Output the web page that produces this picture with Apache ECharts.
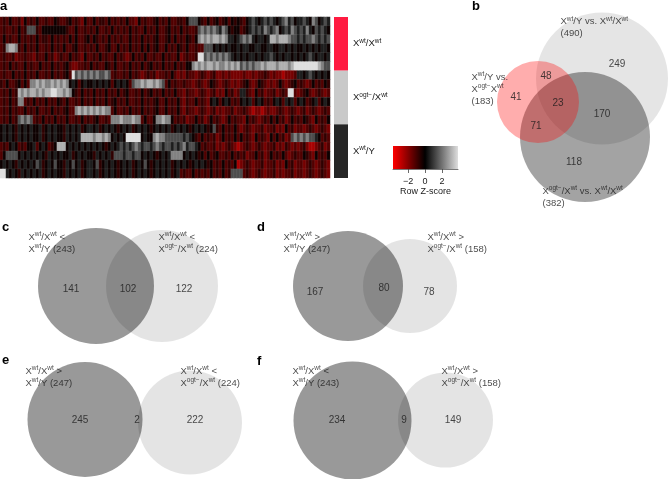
<!DOCTYPE html>
<html><head><meta charset="utf-8">
<script src="https://cdn.jsdelivr.net/npm/echarts@6/dist/echarts.min.js"></script>
<style>html,body{margin:0;padding:0;background:#fff}#c{width:670px;height:479px}</style>
</head><body><div id="c"></div>
<script>
// ---------- DATA ----------
// Heatmap: one string per gene-row, each character is a z-score level (index into levelZ)
const heatRowsRaw = [
"2324223142 3242232243 2234232142 2423324232 3242214232 2342324223 3246664324 2342342434 3245654565 6545675645 5654764565",
"2322324236 6632444444 4432242232 3242232423 2324232242 3242234232 4232236767 6765764344 2345656576 5674565765 6575465654",
"2423224232 3242332423 2324242234 2432324232 3224232423 2342234242 3243247878 7887875545 6767545545 8878887665 6566765656",
"2378873242 3242232423 2422342232 3242234224 2324232424 2342242324 3242232266 6454545445 4554455445 5445545454 4545454554",
"2322312232 2132242312 3224232142 2324232242 3212423242 2322423224 1232239967 6767676545 4545545455 6545455454 5456545545",
"2324232242 3224232423 2342112232 4232243242 2324232423 4232423242 3244787878 8787787878 6767677878 8878887899 9999998766",
"2322423242 3242232423 2342967676 7676676232 2324232123 2312232421 2132212321 2311212111 1211212232 1211011125 5456545454",
"3242234242 7787877878 7874542454 4545454245 4542677878 8787624232 2322123212 4321232121 2342124321 2124212342 3212423243",
"2324238787 8878788998 8787432423 2423242324 2342232423 4232423242 2132212321 2312142312 5532142312 2312329921 2342123212",
"2324237723 2423242324 3242232423 2423242342 3242232423 2342242324 2132242321 4542454232 4545245423 2454254524 5423452454",
"2324232242 3242232423 2342278787 8787877242 2324232423 2342242324 2132212321 2312122312 2321011012 1123212321 2312321232",
"2324236767 6232423242 3242232423 2342232777 8777877242 2477877423 2312242312 4232124232 2142321232 4242312423 2432142324",
"4545435454 5445345454 4354545345 5453454543 4545345454 3454545345 4543454543 4632423242 1232122312 2312142312 2123212321",
"4545435454 5445345454 4354545888 8788787454 5499999454 4787766666 6565432423 2312423242 4232142321 4242312676 7676654232",
"2324542324 4524542348 8845454545 4545434545 6565676566 5676566565 6756654232 2312123210 1232123212 2312132121 2310012312",
"2466664545 4545435454 5445345454 4354545366 6566566454 5434545777 7454543424 2342232423 2312242312 4232421232 2432142324",
"4545435454 5465345464 4354645345 5463454543 4545345464 3454545345 4543454543 4232423240 1232122312 2312142312 2123212321",
"9954543545 4545345454 4354545345 5453454543 4545345454 3454545345 2322423232 4232423666 6232123212 2312122312 2123212321"
];
const levelZ = [-2.5, -1.75, -1.2, -0.7, -0.2, 0.5, 1.3, 2.2, 3.0, 3.8];
const rowGroupOf = [0,0,0,0,0,0, 1,1,1,1,1,1, 2,2,2,2,2,2];
const groupNames = ['Xwt/Xwt', 'Xogt−/Xwt', 'Xwt/Y'];
const groupLabels = ['X{s|wt}/X{s|wt}', 'X{s|ogt−}/X{s|wt}', 'X{s|wt}/Y'];
const zTicks = [-2, 0, 2];
const zRange = [-3.8, 3.9];
const zAxisName = 'Row Z-score';

// Venn values
const bSetSizes = [490, 382, 183];
const bSetLabels = ['X{s|wt}/Y vs. X{s|wt}/X{s|wt}', 'X{s|ogt−}/X{s|wt} vs. X{s|wt}/X{s|wt}', 'X{s|wt}/Y vs.\nX{s|ogt−}X{s|wt}'];
const bRegionCounts = [249, 48, 41, 23, 170, 71, 118];
const cSetSizes = [243, 224];
const cSetLabels = ['X{s|wt}/X{s|wt} <\nX{s|wt}/Y', 'X{s|wt}/X{s|wt} <\nX{s|ogt−}/X{s|wt}'];
const cRegionCounts = [141, 102, 122];
const dSetSizes = [247, 158];
const dSetLabels = ['X{s|wt}/X{s|wt} >\nX{s|wt}/Y', 'X{s|wt}/X{s|wt} >\nX{s|ogt−}/X{s|wt}'];
const dRegionCounts = [167, 80, 78];
const eSetSizes = [247, 224];
const eSetLabels = ['X{s|wt}/X{s|wt} >\nX{s|wt}/Y', 'X{s|wt}/X{s|wt} <\nX{s|ogt−}/X{s|wt}'];
const eRegionCounts = [245, 2, 222];
const fSetSizes = [243, 158];
const fSetLabels = ['X{s|wt}/X{s|wt} <\nX{s|wt}/Y', 'X{s|wt}/X{s|wt} >\nX{s|ogt−}/X{s|wt}'];
const fRegionCounts = [234, 9, 149];
const panelLetters = ['a', 'b', 'c', 'd', 'e', 'f'];

// ---------- LAYOUT (positions / sizes / styles) ----------
const FONT = "'Liberation Sans', Arial, Helvetica, sans-serif";
const TXT = '#1a1a1a';
const letterPos = [[0,0],[472,0],[2,221],[257,221],[2,354],[257,355]];
const sideColors = ['#ff1b41', '#c9c9c9', '#262626'];
const darkFill = 'rgba(0,0,0,0.40)', lightFill = 'rgba(0,0,0,0.105)';
const vennLayout = [
  {box:[460,0,210,215], circles:[[142,78.5,66],[125,137,65],[78,102,41]],
   fills:['rgba(0,0,0,0.10)','rgba(0,0,0,0.36)','rgba(255,0,0,0.32)'],
   countPos:[[157,64],[86,76],[56,97],[98,103],[142,114],[76,126],[114,162]],
   labelPos:[[100,27.5],[82,197],[11,89]], sep:'\n',
   sizes:bSetSizes, labels:bSetLabels, counts:bRegionCounts},
  {box:[0,220,255,130], circles:[[96,66,58],[162,66,56]], fills:[darkFill, lightFill],
   countPos:[[71,69],[128,69],[184,69]], labelPos:[[28,23],[158,23]], sep:' ',
   sizes:cSetSizes, labels:cSetLabels, counts:cRegionCounts},
  {box:[255,220,215,130], circles:[[93,66,55],[155,66,47]], fills:[darkFill, lightFill],
   countPos:[[60,72],[129,68],[174,72]], labelPos:[[28,23],[172,23]], sep:' ',
   sizes:dSetSizes, labels:dSetLabels, counts:dRegionCounts},
  {box:[0,355,255,124], circles:[[85,64.5,57.5],[190,67.5,52]], fills:[darkFill, lightFill],
   countPos:[[80,65],[137,65],[195,65]], labelPos:[[25,22],[180,22]], sep:' ',
   sizes:eSetSizes, labels:eSetLabels, counts:eRegionCounts},
  {box:[255,355,255,124], circles:[[97.5,65.5,59],[190.5,65,47.5]], fills:[darkFill, lightFill],
   countPos:[[82,65],[149,65],[198,65]], labelPos:[[37,22],[186,22]], sep:' ',
   sizes:fSetSizes, labels:fSetLabels, counts:fRegionCounts}
];

// ---------- BUILD ----------
const heatRows = heatRowsRaw.map(s => s.replace(/ /g, ''));
const nCols = Math.max(...heatRows.map(r => r.length));
const colCats = Array.from({length: nCols}, (_, i) => 'g' + (i + 1));
const rowCats = heatRows.map((_, i) => 'row' + (i + 1));
const heatData = [];
heatRows.forEach((r, ri) => { for (let ci = 0; ci < r.length; ci++) heatData.push([ci, ri, levelZ[+r[ci]]]); });

const richSup = {s: {fontSize: 6.5, lineHeight: 12, verticalAlign: 'top', fontFamily: FONT, color: TXT}};

const grid = [
  {left: 0, top: 17, width: 330, height: 161},
  {left: 334, top: 17, width: 14, height: 161},
  {left: 393, top: 146, width: 65, height: 23}
];
const xAxis = [
  {gridIndex: 0, type: 'category', data: colCats, show: false},
  {gridIndex: 1, type: 'category', data: ['group'], show: false},
  {gridIndex: 2, type: 'value', min: zRange[0], max: zRange[1], position: 'bottom',
   axisLine: {show: true, onZero: false, lineStyle: {color: '#555', width: 0.8}},
   axisTick: {show: true, customValues: zTicks, length: 4, lineStyle: {color: '#444', width: 0.8}},
   axisLabel: {customValues: zTicks, fontSize: 9, color: TXT, margin: 8, fontFamily: FONT,
               formatter: v => String(v).replace('-', '−')},
   splitLine: {show: false},
   name: zAxisName, nameLocation: 'middle', nameGap: 18,
   nameTextStyle: {fontSize: 9, color: TXT, fontFamily: FONT}}
];
const yAxis = [
  {gridIndex: 0, type: 'category', data: rowCats, inverse: true, show: false},
  {gridIndex: 1, type: 'category', data: groupNames, inverse: true, position: 'right',
   axisLine: {show: false}, axisTick: {show: false},
   axisLabel: {margin: 5, fontSize: 9.5, lineHeight: 12, color: TXT, fontFamily: FONT,
               formatter: (v, i) => groupLabels[i], rich: richSup}},
  {gridIndex: 2, type: 'value', min: 0, max: 1, show: false}
];

const series = [
  {type: 'heatmap', xAxisIndex: 0, yAxisIndex: 0, data: heatData, silent: true,
   itemStyle: {borderColor: 'rgba(255,255,255,0.14)', borderWidth: 0.5}},
  {type: 'custom', xAxisIndex: 1, yAxisIndex: 1, silent: true,
   data: groupNames.map((g, i) => [0, i, i]),
   renderItem: (params, api) => {
     const p = api.coord([api.value(0), api.value(1)]);
     const s = api.size([1, 1]);
     return {type: 'rect', shape: {x: p[0] - s[0] / 2, y: p[1] - s[1] / 2, width: s[0], height: s[1]},
             style: {fill: sideColors[api.value(2)]}};
   }},
  {type: 'custom', xAxisIndex: 2, yAxisIndex: 2, silent: true,
   data: [[zRange[0], 0, zRange[1], 1]], encode: {x: [0, 2], y: [1, 3]},
   renderItem: (params, api) => {
     const a = api.coord([api.value(0), api.value(3)]);
     const b = api.coord([api.value(2), api.value(1)]);
     const zf = (0 - zRange[0]) / (zRange[1] - zRange[0]);
     return {type: 'rect', shape: {x: a[0], y: a[1], width: b[0] - a[0], height: b[1] - a[1]},
             style: {fill: new echarts.graphic.LinearGradient(0, 0, 1, 0, [
               {offset: 0, color: '#ff0000'}, {offset: zf, color: '#000000'}, {offset: 1, color: '#dedede'}])}};
   }}
];

vennLayout.forEach((P, k) => {
  const gi = grid.length;
  grid.push({left: P.box[0], top: P.box[1], width: P.box[2], height: P.box[3]});
  xAxis.push({gridIndex: gi, type: 'value', min: 0, max: P.box[2], show: false});
  yAxis.push({gridIndex: gi, type: 'value', min: 0, max: P.box[3], inverse: true, show: false});
  series.push({type: 'custom', xAxisIndex: gi, yAxisIndex: gi, silent: true, z: 2,
    data: P.circles, encode: {x: 0, y: 1},
    renderItem: (params, api) => {
      const c = api.coord([api.value(0), api.value(1)]);
      const r = api.size([api.value(2), 0])[0];
      return {type: 'circle', shape: {cx: c[0], cy: c[1], r: r}, style: {fill: P.fills[params.dataIndex]}};
    }});
  series.push({type: 'scatter', xAxisIndex: gi, yAxisIndex: gi, silent: true, z: 3,
    symbolSize: 1, itemStyle: {color: 'rgba(0,0,0,0)'},
    data: P.counts.map((n, i) => ({name: String(n), value: P.countPos[i]})),
    label: {show: true, position: 'inside', formatter: p => p.name, fontSize: 10, color: TXT, fontFamily: FONT}});
  series.push({type: 'scatter', xAxisIndex: gi, yAxisIndex: gi, silent: true, z: 3,
    symbolSize: 1, itemStyle: {color: 'rgba(0,0,0,0)'},
    data: P.labels.map((t, i) => ({name: t + P.sep + '(' + P.sizes[i] + ')', value: P.labelPos[i]})),
    label: {show: true, position: 'right', distance: 0, align: 'left', formatter: p => p.name,
            fontSize: 9.5, lineHeight: 12, color: TXT, fontFamily: FONT, rich: richSup}});
});

const option = {
  animation: false,
  backgroundColor: '#ffffff',
  textStyle: {fontFamily: FONT},
  title: panelLetters.map((t, i) => ({text: t, left: letterPos[i][0], top: letterPos[i][1], padding: 0,
    textStyle: {fontSize: 13, fontWeight: 'bold', color: '#000', fontFamily: FONT}})),
  visualMap: {show: false, seriesIndex: 0, dimension: 2, min: -3.8, max: 3.8,
              inRange: {color: ['#ff0000', '#000000', '#dedede']}},
  grid, xAxis, yAxis, series
};
const chart = echarts.init(document.getElementById('c'), null, {renderer: 'canvas'});
chart.setOption(option);
</script></body></html>
